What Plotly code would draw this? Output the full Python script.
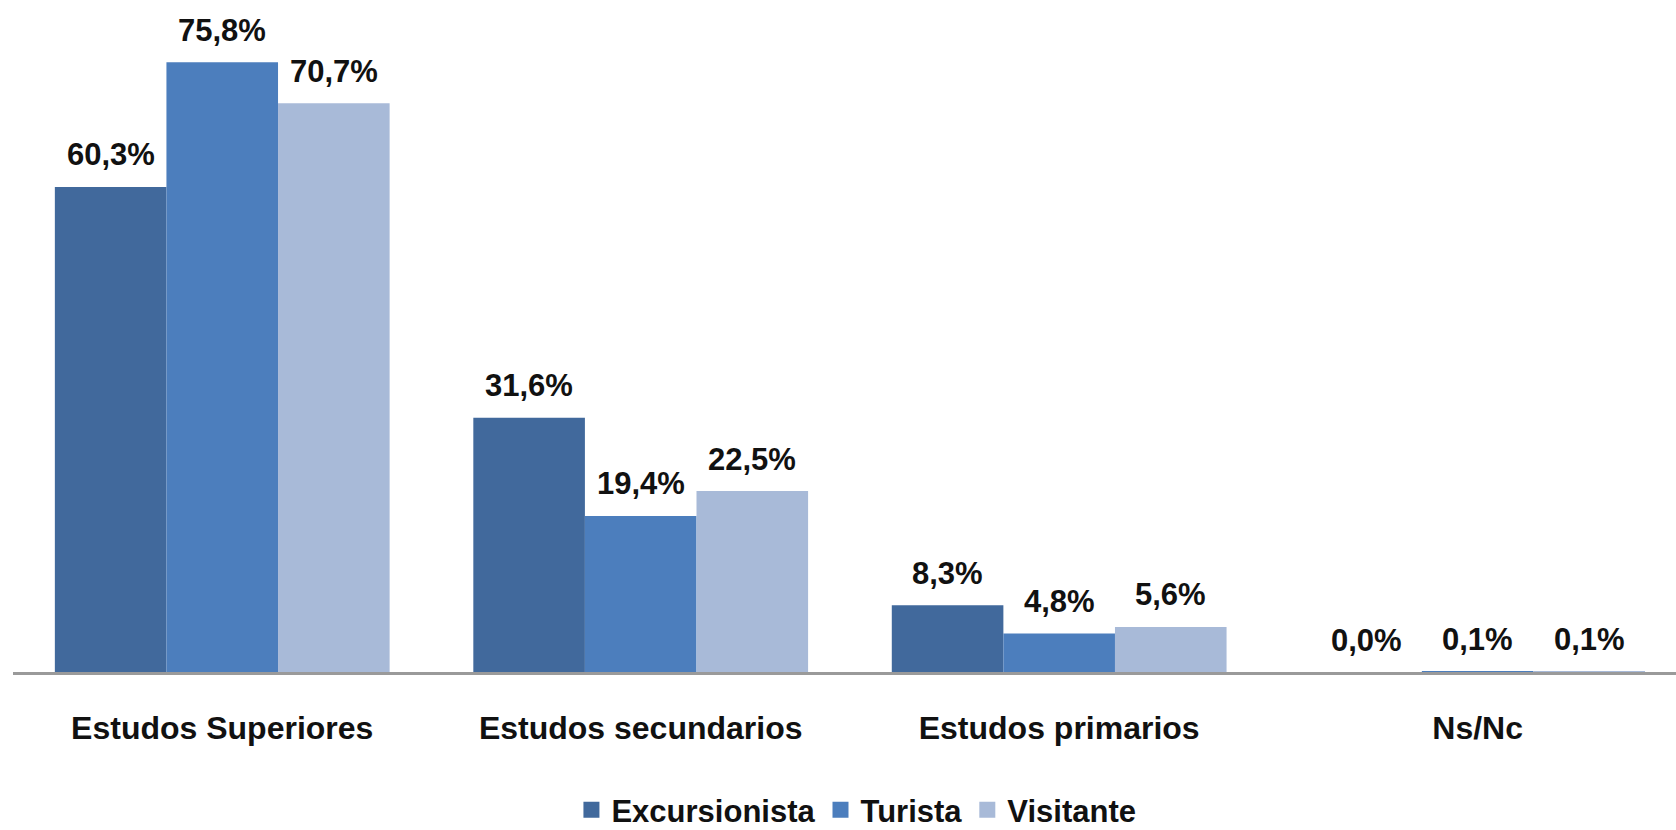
import plotly.graph_objects as go

categories = ["Estudos Superiores", "Estudos secundarios", "Estudos primarios", "Ns/Nc"]
series_names = ["Excursionista", "Turista", "Visitante"]
excursionista = [60.3, 31.6, 8.3, 0.0]
turista = [75.8, 19.4, 4.8, 0.1]
visitante = [70.7, 22.5, 5.6, 0.1]
colors = ["#41699C", "#4C7EBD", "#A8BAD8"]

series_values = [excursionista, turista, visitante]

FONT = "Liberation Sans, Arial, Helvetica, sans-serif"
BARGAP = 0.2

fig = go.Figure()
for name, vals, col in zip(series_names, series_values, colors):
    fig.add_trace(go.Bar(
        name=name, x=categories, y=vals, marker=dict(color=col, line=dict(width=0)),
        hoverinfo="skip", showlegend=False,
    ))
# legend entries (larger square swatches, like the reference)
for name, col in zip(series_names, colors):
    fig.add_trace(go.Scatter(
        name=name, x=[None], y=[None], mode="markers",
        marker=dict(symbol="square", size=16, color=col),
        showlegend=True, hoverinfo="skip",
    ))

def fmt(v):
    return f"{v:.1f}%".replace(".", ",")

n = len(series_values)
bw = (1 - BARGAP) / n
annotations = []
for i, vals in enumerate(series_values):
    off = (i - (n - 1) / 2) * bw
    for j, v in enumerate(vals):
        annotations.append(dict(
            x=j + off, y=v, xref="x", yref="y", text=fmt(v), showarrow=False,
            yanchor="middle", xanchor="center", yshift=32,
            font=dict(family=FONT, size=31, color="#111111", weight="bold"),
        ))

fig.update_layout(
    width=1676, height=830,
    paper_bgcolor="white", plot_bgcolor="white",
    barmode="group", bargap=BARGAP, bargroupgap=0,
    margin=dict(l=13, r=0, t=10, b=158, autoexpand=False),
    annotations=annotations,
    showlegend=True,
    legend=dict(
        orientation="h", xref="container", yref="container",
        x=0.511, xanchor="center", y=0.024, yanchor="middle",
        font=dict(family=FONT, size=31, color="#111111", weight="bold"),
        itemclick=False, itemdoubleclick=False, itemsizing="trace",
    ),
    xaxis=dict(
        type="category", range=[-0.5, 3.474],
        showline=True, linecolor="#9A9A9A", linewidth=2.5,
        ticks="", showgrid=False, zeroline=False,
        tickfont=dict(family=FONT, size=32, color="#111111", weight="bold"),
        ticklabelstandoff=26,
    ),
    yaxis=dict(
        range=[0, 82.3], visible=False, showgrid=False, zeroline=False,
    ),
)

fig.write_html(
    "out.html",
    config={"displayModeBar": False},
    post_script="document.body.style.margin='0';document.documentElement.style.overflow='hidden';",
)
